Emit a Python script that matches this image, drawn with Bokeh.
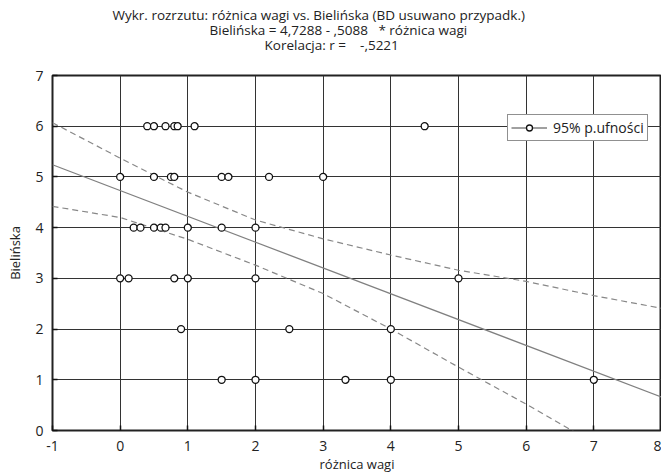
from bokeh.plotting import figure
from bokeh.models import FixedTicker, Legend, LegendItem, Title, ColumnDataSource
from bokeh.embed import file_html
from bokeh.resources import INLINE

# --- data ---
wagi_y6 = [0.4, 0.5, 0.67, 0.8, 0.85, 1.1, 4.5]
wagi_y5 = [0.0, 0.5, 0.75, 0.8, 1.5, 1.6, 2.2, 3.0]
wagi_y4 = [0.2, 0.3, 0.5, 0.6, 0.67, 1.0, 1.5, 2.0]
wagi_y3 = [0.0, 0.125, 0.8, 1.0, 2.0, 5.0]
wagi_y2 = [0.9, 2.5, 4.0]
wagi_y1 = [1.5, 2.0, 3.33, 4.0, 7.0]
levels = [6, 5, 4, 3, 2, 1]

reg_x = [-1, 8]
reg_y = [5.24, 0.66]

band_x = [-1, 0, 1, 2, 3, 4, 5, 6, 7, 8]
band_upper = [6.07, 5.37, 4.70, 4.15, 3.78, 3.46, 3.16, 2.94, 2.66, 2.41]
band_lower = [4.42, 4.20, 3.77, 3.26, 2.70, 2.00, 1.25, 0.52, -0.25, -1.0]

x_ticks = [-1, 0, 1, 2, 3, 4, 5, 6, 7, 8]
y_ticks = [0, 1, 2, 3, 4, 5, 6, 7]

title_1 = "Wykr. rozrzutu: różnica wagi vs. Bielińska (BD usuwano przypadk.)"
title_2 = "Bielińska = 4,7288 - ,5088 \u00a0\u00a0* różnica wagi"
title_3 = "Korelacja: r = \u00a0\u00a0\u00a0-,5221"

FONT = "Open Sans"

xs, ys = [], []
for lvl, arr in zip(levels, [wagi_y6, wagi_y5, wagi_y4, wagi_y3, wagi_y2, wagi_y1]):
    xs += arr
    ys += [lvl] * len(arr)
src = ColumnDataSource(dict(x=xs, y=ys))

p = figure(width=661, height=475, output_backend="svg", toolbar_location=None,
           x_range=(-1, 8), y_range=(0, 7),
           min_border_left=52, min_border_right=0, min_border_top=75, min_border_bottom=44)

# stacking order (closest to frame first): line 3, line 1, line 2
for t, off, so in [(title_3, 212, 44), (title_1, 60, -24), (title_2, 157, -54)]:
    p.add_layout(Title(text=t, align="left", offset=off, standoff=so, text_font=FONT,
                       text_font_size="13.5px", text_font_style="normal",
                       text_color="#222222"), "above")

p.xaxis.ticker = FixedTicker(ticks=x_ticks)
p.yaxis.ticker = FixedTicker(ticks=y_ticks)
p.xaxis.major_label_overrides = {t: str(t) for t in x_ticks}
p.xaxis.axis_label = "różnica wagi"
p.yaxis.axis_label = "Bielińska"
for ax in [p.xaxis, p.yaxis]:
    ax.axis_label_text_font = FONT
    ax.axis_label_text_font_size = "13px"
    ax.axis_label_text_font_style = "normal"
    ax.axis_label_text_color = "#222222"
    ax.major_label_text_font = FONT
    ax.major_label_text_font_size = "14px"
    ax.major_label_text_color = "#222222"
    ax.axis_line_color = None
    ax.major_tick_in = 5
    ax.major_tick_out = 0
    ax.major_tick_line_color = "#111111"
    ax.major_tick_line_width = 1.5
    ax.minor_tick_line_color = None
p.xaxis.major_label_standoff = 10
p.yaxis.major_label_standoff = 9
p.xaxis.axis_label_standoff = 1
p.yaxis.axis_label_standoff = 8

p.xgrid.ticker = FixedTicker(ticks=x_ticks)
p.ygrid.ticker = FixedTicker(ticks=y_ticks)
p.grid.grid_line_color = "#333333"
p.grid.grid_line_width = 1
p.grid.grid_line_alpha = 1

p.outline_line_color = "#222222"
p.outline_line_width = 2

p.line(band_x, band_upper, line_color="#888888", line_width=1.2, line_dash="6 4")
p.line(band_x, band_lower, line_color="#888888", line_width=1.2, line_dash="6 4")
reg = p.line(reg_x, reg_y, line_color="#808080", line_width=1.3)
pts = p.scatter("x", "y", source=src, size=7, fill_color="white", line_color="#111111",
                line_width=1.3)

legend = Legend(items=[LegendItem(label="95% p.ufności", renderers=[reg, pts])],
                location=(455, 289))
legend.label_text_font = FONT
legend.label_text_font_size = "14px"
legend.label_text_color = "#222222"
legend.border_line_color = "#222222"
legend.border_line_width = 1
legend.padding = 3
legend.margin = 0
legend.glyph_width = 36
legend.glyph_height = 15
legend.label_standoff = 6
legend.label_height = 15
legend.background_fill_alpha = 1
p.add_layout(legend, "center")

open("out.html", "w").write(file_html(p, INLINE))
